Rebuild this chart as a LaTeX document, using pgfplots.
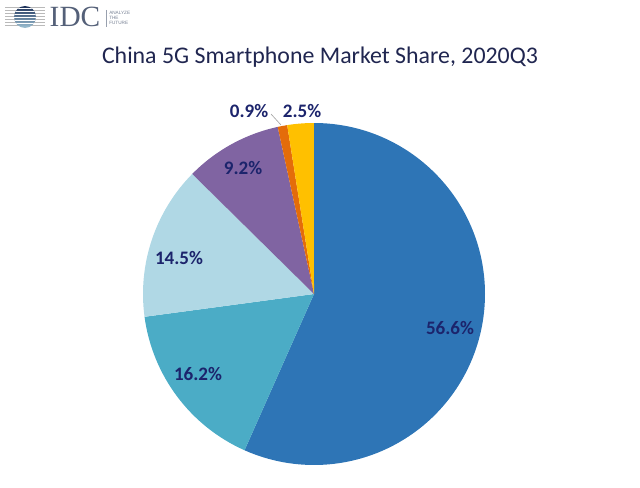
\documentclass[border=0pt]{standalone}
\usepackage{fontspec}
\setmainfont{Carlito}
\newfontfamily\logofont{Liberation Serif}
\newfontfamily\tagfont{Liberation Sans}
\usepackage{pgfplots}
\usepackage{pgfplotstable}
\pgfplotsset{compat=1.18}

\definecolor{sliceA}{RGB}{46,117,182}
\definecolor{sliceB}{RGB}{75,172,198}
\definecolor{sliceC}{RGB}{176,216,229}
\definecolor{sliceD}{RGB}{128,100,162}
\definecolor{sliceE}{RGB}{228,108,10}
\definecolor{sliceF}{RGB}{255,192,0}
\definecolor{labelnavy}{RGB}{28,36,108}
\definecolor{titlenavy}{RGB}{32,38,80}
\definecolor{idcgray}{RGB}{84,96,120}
\definecolor{globetop}{RGB}{28,48,88}
\definecolor{globebot}{RGB}{160,196,214}

% share (%), slice colour, label position (px, y up)
\pgfplotstableread{
share col    lx  ly
56.6  sliceA 450 159
16.2  sliceB 198 113
14.5  sliceC 179 229
9.2   sliceD 243 319
0.9   sliceE 249 376
2.5   sliceF 302 376
}\piedata

\begin{document}
\begin{tikzpicture}
\begin{axis}[
    scale only axis,
    width=480pt, height=365.25pt,
    xmin=0, xmax=640, ymin=0, ymax=487,
    hide axis, clip=false,
]
\path (axis cs:0,0) rectangle (axis cs:640,487);

% total of shares, so the pie closes
\pgfplotstablegetrowsof{\piedata}
\pgfmathtruncatemacro{\N}{\pgfplotsretval-1}
\gdef\total{0}
\pgfplotsforeachungrouped \i in {0,...,\N}{%
  \pgfplotstablegetelem{\i}{share}\of\piedata
  \pgfmathsetmacro{\tmp}{\total+\pgfplotsretval}%
  \global\let\total\tmp
}

% slices, clockwise from the top
\gdef\angA{90}
\pgfplotsforeachungrouped \i in {0,...,\N}{%
  \pgfplotstablegetelem{\i}{share}\of\piedata \let\s\pgfplotsretval
  \pgfplotstablegetelem{\i}{col}\of\piedata \let\c\pgfplotsretval
  \pgfmathsetmacro{\angB}{\angA-(\s/\total)*360}%
  \edef\temp{\noexpand\fill[\c] (axis cs:314,193) -- ++(\angA:128.25pt)
    arc[start angle=\angA, end angle=\angB, radius=128.25pt] -- cycle;}%
  \temp
  \global\let\angA\angB
}

% labels
\pgfplotsforeachungrouped \i in {0,...,\N}{%
  \pgfplotstablegetelem{\i}{share}\of\piedata \let\s\pgfplotsretval
  \pgfplotstablegetelem{\i}{lx}\of\piedata \let\lx\pgfplotsretval
  \pgfplotstablegetelem{\i}{ly}\of\piedata \let\ly\pgfplotsretval
  \edef\temp{\noexpand\node[font=\noexpand\bfseries\noexpand\fontsize{14.3}{16}\noexpand\selectfont,
    text=labelnavy] at (axis cs:\lx,\ly) {\s\noexpand\%};}%
  \temp
}
\draw[gray!70, line width=0.5pt] (axis cs:271,373) -- (axis cs:281,362);

% title
\node[text=titlenavy, font=\fontsize{17.9}{20}\selectfont] at (axis cs:320,430)
  {China 5G Smartphone Market Share, 2020Q3};

% IDC logo
\pgfplotsinvokeforeach{462,465,468,471,474,477,480}{%
  \draw[gray!55, line width=0.4pt] (axis cs:5,#1) -- (axis cs:45,#1);}
\begin{scope}
  \clip (axis cs:25,470) circle[radius=8.25pt];
  \shade[top color=globetop, bottom color=globebot] (axis cs:13,459) rectangle (axis cs:37,481);
  \pgfplotsinvokeforeach{463.5,466.5,469.5,472.5,475.5,478.5}{%
    \draw[white, line width=0.6pt] (axis cs:12,#1) -- (axis cs:38,#1);}
\end{scope}
\node[text=idcgray, font=\logofont\fontsize{22}{22}\selectfont, inner sep=0pt]
  at (axis cs:75,470) {IDC};
\draw[idcgray!60, line width=0.4pt] (axis cs:106,477) -- (axis cs:106,460);
\node[text=idcgray!80, font=\tagfont\fontsize{3.5}{4}\selectfont, align=left,
  anchor=west, inner sep=0pt] at (axis cs:109,469) {ANALYZE\\THE\\FUTURE};
\end{axis}
\end{tikzpicture}
\end{document}
